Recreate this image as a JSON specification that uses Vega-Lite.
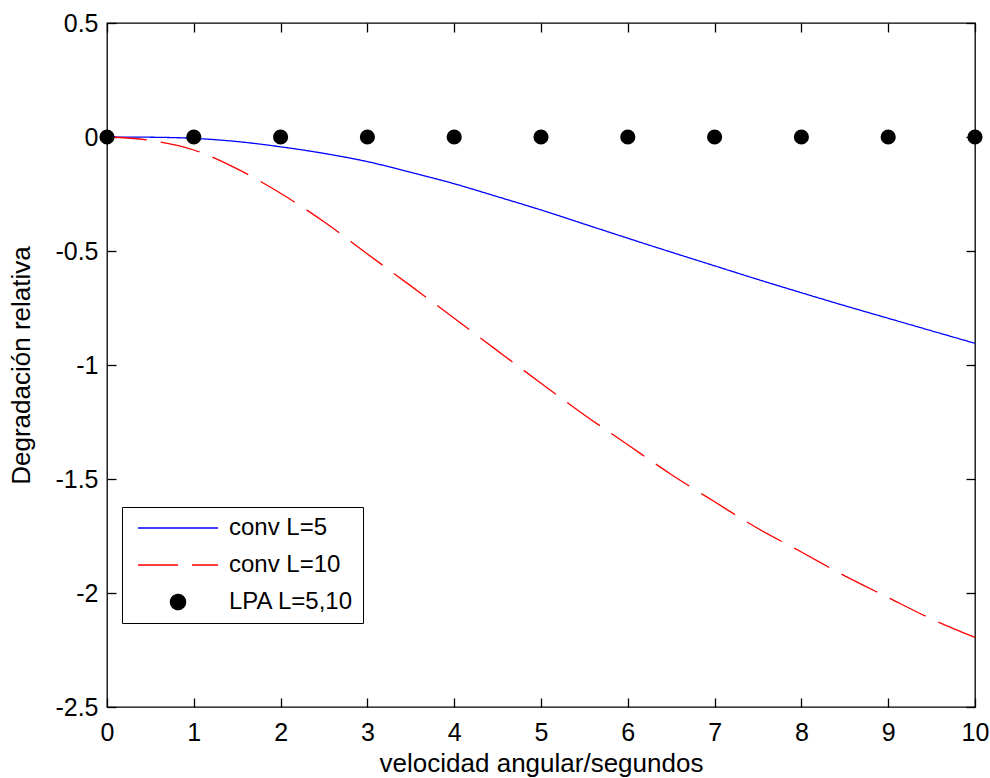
{
  "$schema": "https://vega.github.io/schema/vega-lite/v6.json",
  "width": 868,
  "height": 684,
  "autosize": {"type": "none"},
  "padding": {"left": 107, "top": 23, "right": 15, "bottom": 71},
  "background": "white",
  "config": {
    "font": "Liberation Sans",
    "view": {"stroke": "black", "strokeWidth": 1.3},
    "axis": {
      "grid": false,
      "domain": false,
      "labelFlush": false,
      "tickColor": "black",
      "tickWidth": 1.3,
      "tickSize": -9,
      "labelColor": "black",
      "labelFont": "Liberation Sans",
      "labelFontSize": 25,
      "titleColor": "black",
      "titleFont": "Liberation Sans",
      "titleFontSize": 26,
      "titleFontWeight": "normal"
    }
  },
  "datasets": {
    "conv": [
      {"velocidad": 0, "degradacion": 0, "serie": "conv L=5"},
      {"velocidad": 0.5, "degradacion": -0.001, "serie": "conv L=5"},
      {"velocidad": 1, "degradacion": -0.006, "serie": "conv L=5"},
      {"velocidad": 1.5, "degradacion": -0.02, "serie": "conv L=5"},
      {"velocidad": 2, "degradacion": -0.043, "serie": "conv L=5"},
      {"velocidad": 2.5, "degradacion": -0.072, "serie": "conv L=5"},
      {"velocidad": 3, "degradacion": -0.108, "serie": "conv L=5"},
      {"velocidad": 3.5, "degradacion": -0.155, "serie": "conv L=5"},
      {"velocidad": 4, "degradacion": -0.205, "serie": "conv L=5"},
      {"velocidad": 4.5, "degradacion": -0.262, "serie": "conv L=5"},
      {"velocidad": 5, "degradacion": -0.32, "serie": "conv L=5"},
      {"velocidad": 5.5, "degradacion": -0.382, "serie": "conv L=5"},
      {"velocidad": 6, "degradacion": -0.444, "serie": "conv L=5"},
      {"velocidad": 6.5, "degradacion": -0.505, "serie": "conv L=5"},
      {"velocidad": 7, "degradacion": -0.565, "serie": "conv L=5"},
      {"velocidad": 7.5, "degradacion": -0.625, "serie": "conv L=5"},
      {"velocidad": 8, "degradacion": -0.683, "serie": "conv L=5"},
      {"velocidad": 8.5, "degradacion": -0.74, "serie": "conv L=5"},
      {"velocidad": 9, "degradacion": -0.795, "serie": "conv L=5"},
      {"velocidad": 9.5, "degradacion": -0.85, "serie": "conv L=5"},
      {"velocidad": 10, "degradacion": -0.905, "serie": "conv L=5"},
      {"velocidad": 0, "degradacion": 0, "serie": "conv L=10"},
      {"velocidad": 0.5, "degradacion": -0.015, "serie": "conv L=10"},
      {"velocidad": 1, "degradacion": -0.057, "serie": "conv L=10"},
      {"velocidad": 1.5, "degradacion": -0.14, "serie": "conv L=10"},
      {"velocidad": 2, "degradacion": -0.247, "serie": "conv L=10"},
      {"velocidad": 2.5, "degradacion": -0.372, "serie": "conv L=10"},
      {"velocidad": 3, "degradacion": -0.513, "serie": "conv L=10"},
      {"velocidad": 3.5, "degradacion": -0.653, "serie": "conv L=10"},
      {"velocidad": 4, "degradacion": -0.795, "serie": "conv L=10"},
      {"velocidad": 4.5, "degradacion": -0.938, "serie": "conv L=10"},
      {"velocidad": 5, "degradacion": -1.08, "serie": "conv L=10"},
      {"velocidad": 5.5, "degradacion": -1.219, "serie": "conv L=10"},
      {"velocidad": 6, "degradacion": -1.35, "serie": "conv L=10"},
      {"velocidad": 6.5, "degradacion": -1.48, "serie": "conv L=10"},
      {"velocidad": 7, "degradacion": -1.6, "serie": "conv L=10"},
      {"velocidad": 7.5, "degradacion": -1.717, "serie": "conv L=10"},
      {"velocidad": 8, "degradacion": -1.82, "serie": "conv L=10"},
      {"velocidad": 8.5, "degradacion": -1.925, "serie": "conv L=10"},
      {"velocidad": 9, "degradacion": -2.02, "serie": "conv L=10"},
      {"velocidad": 9.5, "degradacion": -2.114, "serie": "conv L=10"},
      {"velocidad": 10, "degradacion": -2.195, "serie": "conv L=10"}
    ],
    "lpa": [
      {"velocidad": 0, "degradacion": 0, "serie": "LPA L=5,10"},
      {"velocidad": 1, "degradacion": 0, "serie": "LPA L=5,10"},
      {"velocidad": 2, "degradacion": 0, "serie": "LPA L=5,10"},
      {"velocidad": 3, "degradacion": 0, "serie": "LPA L=5,10"},
      {"velocidad": 4, "degradacion": 0, "serie": "LPA L=5,10"},
      {"velocidad": 5, "degradacion": 0, "serie": "LPA L=5,10"},
      {"velocidad": 6, "degradacion": 0, "serie": "LPA L=5,10"},
      {"velocidad": 7, "degradacion": 0, "serie": "LPA L=5,10"},
      {"velocidad": 8, "degradacion": 0, "serie": "LPA L=5,10"},
      {"velocidad": 9, "degradacion": 0, "serie": "LPA L=5,10"},
      {"velocidad": 10, "degradacion": 0, "serie": "LPA L=5,10"}
    ]
  },
  "layer": [
    {
      "data": {"name": "conv"},
      "mark": {"type": "line", "strokeWidth": 1.3, "interpolate": "monotone"},
      "encoding": {
        "x": {
          "field": "velocidad",
          "type": "quantitative",
          "scale": {"domain": [0, 10], "nice": false, "zero": false},
          "axis": {
            "values": [0, 1, 2, 3, 4, 5, 6, 7, 8, 9, 10],
            "labelExpr": "datum.value + ''",
            "labelPadding": 22,
            "title": "velocidad angular/segundos",
            "titlePadding": 5
          }
        },
        "y": {
          "field": "degradacion",
          "type": "quantitative",
          "scale": {"domain": [-2.5, 0.5], "nice": false, "zero": false},
          "axis": {
            "values": [-2.5, -2, -1.5, -1, -0.5, 0, 0.5],
            "labelExpr": "datum.value + ''",
            "labelPadding": 18,
            "title": "Degradación relativa",
            "titlePadding": 20
          }
        },
        "color": {
          "field": "serie",
          "type": "nominal",
          "scale": {
            "domain": ["conv L=5", "conv L=10", "LPA L=5,10"],
            "range": ["#0000ff", "#ff0000", "#000000"]
          },
          "legend": {
            "title": null,
            "orient": "none",
            "legendX": 15,
            "legendY": 484,
            "fillColor": "white",
            "strokeColor": "black",
            "padding": 9,
            "symbolType": "stroke",
            "symbolSize": 6400,
            "symbolStrokeWidth": 1.3,
            "symbolOffset": 6,
            "clipHeight": 24,
            "rowPadding": 13,
            "labelOffset": 10,
            "labelFont": "Liberation Sans",
            "labelFontSize": 24,
            "labelColor": "black",
            "encode": {
              "symbols": {
                "update": {
                  "shape": {"signal": "datum.value === 'LPA L=5,10' ? 'circle' : 'stroke'"},
                  "size": {"signal": "datum.value === 'LPA L=5,10' ? 230 : 6400"},
                  "fill": {"signal": "datum.value === 'LPA L=5,10' ? 'black' : 'transparent'"},
                  "strokeDash": {"signal": "datum.value === 'conv L=10' ? [40, 14] : [1, 0]"},
                  "opacity": {"value": 1}
                }
              }
            }
          }
        },
        "strokeDash": {
          "field": "serie",
          "type": "nominal",
          "scale": {"domain": ["conv L=5", "conv L=10"], "range": [[1, 0], [40, 14]]},
          "legend": null
        }
      }
    },
    {
      "data": {"name": "lpa"},
      "mark": {"type": "point", "filled": true, "size": 230, "opacity": 1, "color": "black"},
      "encoding": {
        "x": {
          "field": "velocidad",
          "type": "quantitative",
          "axis": {"orient": "top", "values": [0, 1, 2, 3, 4, 5, 6, 7, 8, 9, 10], "labels": false, "title": null}
        },
        "y": {
          "field": "degradacion",
          "type": "quantitative",
          "axis": {"orient": "right", "values": [-2.5, -2, -1.5, -1, -0.5, 0, 0.5], "labels": false, "title": null}
        }
      }
    }
  ],
  "resolve": {"axis": {"x": "independent", "y": "independent"}}
}
